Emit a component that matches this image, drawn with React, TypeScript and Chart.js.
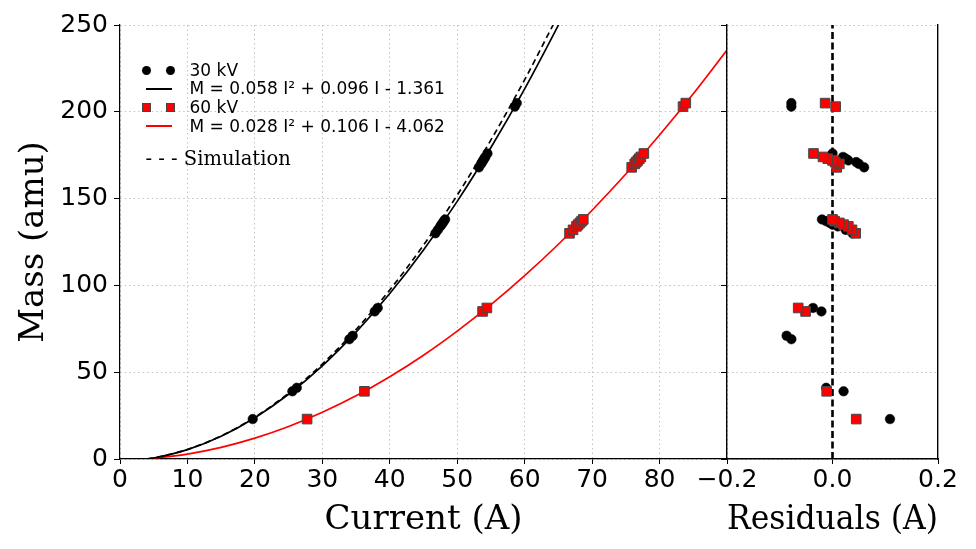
import React, { useEffect, useRef } from "react";
import { Chart, registerables } from "chart.js";

Chart.register(...registerables);

// measured points, 30 kV
const masses30 = [23, 39, 41, 69, 71, 85, 87, 130, 132, 134, 135, 136, 137, 138, 168, 170, 171, 172, 173, 174, 176, 203, 205];
const current30 = [19.68, 25.56, 26.21, 34.01, 34.5, 37.77, 38.21, 46.77, 47.13, 47.49, 47.67, 47.85, 48.02, 48.2, 53.22, 53.54, 53.69, 53.85, 54.01, 54.17, 54.48, 58.54, 58.83];
const resid30 = [0.109, 0.021, -0.012, -0.078, -0.087, -0.021, -0.037, 0.038, 0.025, 0.01, 0.0, -0.005, -0.012, -0.02, 0.06, 0.05, 0.045, 0.03, 0.025, 0.02, 0.0, -0.078, -0.078];

// measured points, 60 kV
const masses60 = [23, 39, 85, 87, 130, 132, 134, 135, 136, 137, 138, 168, 170, 171, 172, 173, 174, 176, 203, 205];
const current60 = [27.74, 36.24, 53.76, 54.4, 66.65, 67.17, 67.68, 67.93, 68.19, 68.44, 68.69, 75.87, 76.32, 76.55, 76.78, 77.0, 77.23, 77.67, 83.48, 83.89];
const resid60 = [0.045, -0.011, -0.051, -0.065, 0.044, 0.037, 0.03, 0.021, 0.013, 0.004, 0.0, 0.008, 0.013, 0.005, 0.0, -0.009, -0.018, -0.036, 0.006, -0.014];

// fit curves and simulation
const fit30I = [4, 5, 10, 15, 20, 25, 30, 35, 40, 45, 50, 55, 60, 65, 66];
const fit30M = [0.0, 0.57, 5.4, 13.1, 23.8, 37.3, 53.7, 73.1, 95.3, 120.4, 148.4, 179.4, 213.2, 249.9, 257.6];
const fit60I = [4.5, 10, 15, 20, 25, 30, 35, 40, 45, 50, 55, 60, 65, 70, 75, 80, 85, 90];
const fit60M = [0.25, 2.85, 6.7, 12.0, 18.7, 26.9, 36.4, 47.4, 59.8, 73.7, 88.9, 105.6, 123.7, 143.3, 164.2, 186.6, 210.4, 235.6];
const simI = [4, 5, 10, 15, 20, 25, 30, 35, 40, 45, 50, 55, 60, 65];
const simM = [0.0, 0.6, 5.5, 13.3, 24.1, 37.9, 54.7, 74.6, 97.4, 123.2, 152.0, 183.8, 218.5, 256];

const W = 976;
const H = 549;
const tickFont = { family: "DejaVu Sans", size: 25 };
const titleFont = { family: "DejaVu Serif", size: 34, lineHeight: 1 };
const gridColor = "#c2c2c2";
const gridDash = [1.5, 3];

const pts = (xs: number[], ys: number[]) => xs.map((x, i) => ({ x, y: ys[i] }));

export default function App() {
    const mainRef = useRef<HTMLCanvasElement | null>(null);
    const residRef = useRef<HTMLCanvasElement | null>(null);

    useEffect(() => {
        if (!mainRef.current || !residRef.current) return;

        const main = new Chart(mainRef.current, {
            type: "scatter",
            data: {
                datasets: [
                    {
                        label: "30 kV",
                        data: pts(current30, masses30),
                        pointStyle: "circle",
                        pointRadius: 4.8,
                        backgroundColor: "#000",
                        borderColor: "#000",
                        borderWidth: 0.5,
                        order: 0,
                    },
                    {
                        label: "60 kV",
                        data: pts(current60, masses60),
                        pointStyle: "rect",
                        pointRadius: 6.8,
                        backgroundColor: "#ff0000",
                        borderColor: "#404848",
                        borderWidth: 1,
                        order: 0,
                    },
                    {
                        label: "fit 30",
                        data: pts(fit30I, fit30M),
                        showLine: true,
                        pointRadius: 0,
                        borderColor: "#000",
                        borderWidth: 1.7,
                        cubicInterpolationMode: "monotone",
                        order: 1,
                    },
                    {
                        label: "fit 60",
                        data: pts(fit60I, fit60M),
                        showLine: true,
                        pointRadius: 0,
                        borderColor: "#ff0000",
                        borderWidth: 1.7,
                        cubicInterpolationMode: "monotone",
                        order: 1,
                    },
                    {
                        label: "Simulation",
                        data: pts(simI, simM),
                        showLine: true,
                        pointRadius: 0,
                        borderColor: "#000",
                        borderWidth: 1.7,
                        borderDash: [6, 4],
                        cubicInterpolationMode: "monotone",
                        order: 1,
                    },
                ],
            },
            options: {
                animation: false,
                responsive: false,
                devicePixelRatio: 1,
                layout: { padding: { left: 0, top: 25, right: W - 727, bottom: 0 } },
                plugins: { legend: { display: false }, tooltip: { enabled: false } },
                scales: {
                    x: {
                        type: "linear",
                        min: 0,
                        max: 90,
                        afterFit: (s: any) => { s.height = 90; },
                        ticks: {
                            stepSize: 10,
                            font: tickFont,
                            color: "#000",
                            padding: 1,
                            maxRotation: 0,
                            callback: (v: any) => (v === 90 ? "" : String(v)),
                        },
                        grid: { color: gridColor, tickColor: "#000", tickLength: 5 },
                        border: { color: "#000", width: 1.2, dash: gridDash },
                        title: {
                            display: true,
                            text: "Current (A)",
                            font: titleFont,
                            color: "#000",
                            padding: { top: 0, bottom: 12 },
                        },
                    },
                    y: {
                        type: "linear",
                        min: 0,
                        max: 250,
                        afterFit: (s: any) => { s.width = 120; },
                        ticks: { stepSize: 50, font: tickFont, color: "#000", padding: 6 },
                        grid: { color: gridColor, tickColor: "#000", tickLength: 6 },
                        border: { color: "#000", width: 1.2, dash: gridDash },
                        title: {
                            display: true,
                            text: "Mass (amu)",
                            font: titleFont,
                            color: "#000",
                            padding: { top: 17, bottom: 0 },
                        },
                    },
                },
            },
        });

        const resid = new Chart(residRef.current, {
            type: "scatter",
            data: {
                datasets: [
                    {
                        label: "60 kV",
                        data: pts(resid60, masses60),
                        pointStyle: "rect",
                        pointRadius: 6.8,
                        backgroundColor: "#ff0000",
                        borderColor: "#404848",
                        borderWidth: 1,
                        order: 0,
                    },
                    {
                        label: "30 kV",
                        data: pts(resid30, masses30),
                        pointStyle: "circle",
                        pointRadius: 4.8,
                        backgroundColor: "#000",
                        borderColor: "#000",
                        borderWidth: 0.5,
                        order: 1,
                    },
                    {
                        label: "zero",
                        data: [{ x: 0, y: 0 }, { x: 0, y: 250 }],
                        showLine: true,
                        pointRadius: 0,
                        borderColor: "#000",
                        borderWidth: 2.6,
                        borderDash: [7, 3.5],
                        order: 2,
                    },
                ],
            },
            options: {
                animation: false,
                responsive: false,
                devicePixelRatio: 1,
                layout: { padding: { left: 727 - 6, top: 25, right: W - 938, bottom: 0 } },
                plugins: { legend: { display: false }, tooltip: { enabled: false } },
                scales: {
                    x: {
                        type: "linear",
                        min: -0.2,
                        max: 0.2,
                        afterFit: (s: any) => { s.height = 90; },
                        ticks: {
                            stepSize: 0.2,
                            font: tickFont,
                            color: "#000",
                            padding: 1,
                            maxRotation: 0,
                            callback: (v: any) => Number(v).toFixed(1).replace("-", "\u2212"),
                        },
                        grid: { drawOnChartArea: false, tickColor: "#000", tickLength: 5 },
                        border: { color: "#000", width: 1.4 },
                        title: {
                            display: true,
                            text: "Residuals (A)",
                            font: titleFont,
                            color: "#000",
                            padding: { top: 0, bottom: 12 },
                        },
                    },
                    y: {
                        type: "linear",
                        min: 0,
                        max: 250,
                        afterFit: (s: any) => { s.width = 6; },
                        ticks: { stepSize: 50, display: false },
                        grid: { color: gridColor, tickColor: "#000", tickLength: 6 },
                        border: { color: "#000", width: 1.4, dash: gridDash },
                    },
                    y2: {
                        type: "linear",
                        position: "right",
                        min: 0,
                        max: 250,
                        afterFit: (s: any) => { s.width = 0; },
                        ticks: { display: false },
                        grid: { display: false },
                        border: { color: "#000", width: 1.4 },
                    },
                },
            },
        });

        return () => {
            main.destroy();
            resid.destroy();
        };
    }, []);

    const legendText: React.CSSProperties = {
        position: "absolute",
        left: 189.5,
        fontFamily: "DejaVu Sans",
        fontSize: 17,
        lineHeight: "17px",
        whiteSpace: "nowrap",
        color: "#000",
    };
    const dot = (x: number, y: number): React.CSSProperties => ({
        position: "absolute",
        left: x - 4.5,
        top: y - 4.5,
        width: 9,
        height: 9,
        borderRadius: "50%",
        background: "#000",
    });
    const square = (x: number, y: number): React.CSSProperties => ({
        position: "absolute",
        left: x - 4.5,
        top: y - 4.5,
        width: 7,
        height: 7,
        background: "#ff0000",
        border: "1px solid #404848",
    });
    const line = (y: number, color: string): React.CSSProperties => ({
        position: "absolute",
        left: 146,
        top: y - 1,
        width: 26,
        height: 2,
        background: color,
    });

    return (
        <div style={{ position: "absolute", left: 0, top: 0, width: W, height: H, background: "#fff", overflow: "hidden" }}>
            <canvas ref={mainRef} width={W} height={H} style={{ position: "absolute", left: 0, top: 0, width: W, height: H }} />
            <canvas ref={residRef} width={W} height={H} style={{ position: "absolute", left: 0, top: 0, width: W, height: H }} />
            <div style={dot(146.7, 70.7)} />
            <div style={dot(170.7, 70.7)} />
            <div style={{ ...legendText, top: 62.3 }}>30 kV</div>
            <div style={line(89, "#000")} />
            <div style={{ ...legendText, top: 80.1 }}>M = 0.058 I² + 0.096 I - 1.361</div>
            <div style={square(146.7, 107.3)} />
            <div style={square(170.7, 107.3)} />
            <div style={{ ...legendText, top: 99.3 }}>60 kV</div>
            <div style={line(126, "#ff0000")} />
            <div style={{ ...legendText, top: 117.6 }}>M = 0.028 I² + 0.106 I - 4.062</div>
            <div
                style={{
                    position: "absolute",
                    left: 145.5,
                    top: 149.2,
                    fontFamily: "DejaVu Serif",
                    fontSize: 19.5,
                    lineHeight: "19.5px",
                    whiteSpace: "nowrap",
                    color: "#000",
                }}
            >
                - - - Simulation
            </div>
        </div>
    );
}
